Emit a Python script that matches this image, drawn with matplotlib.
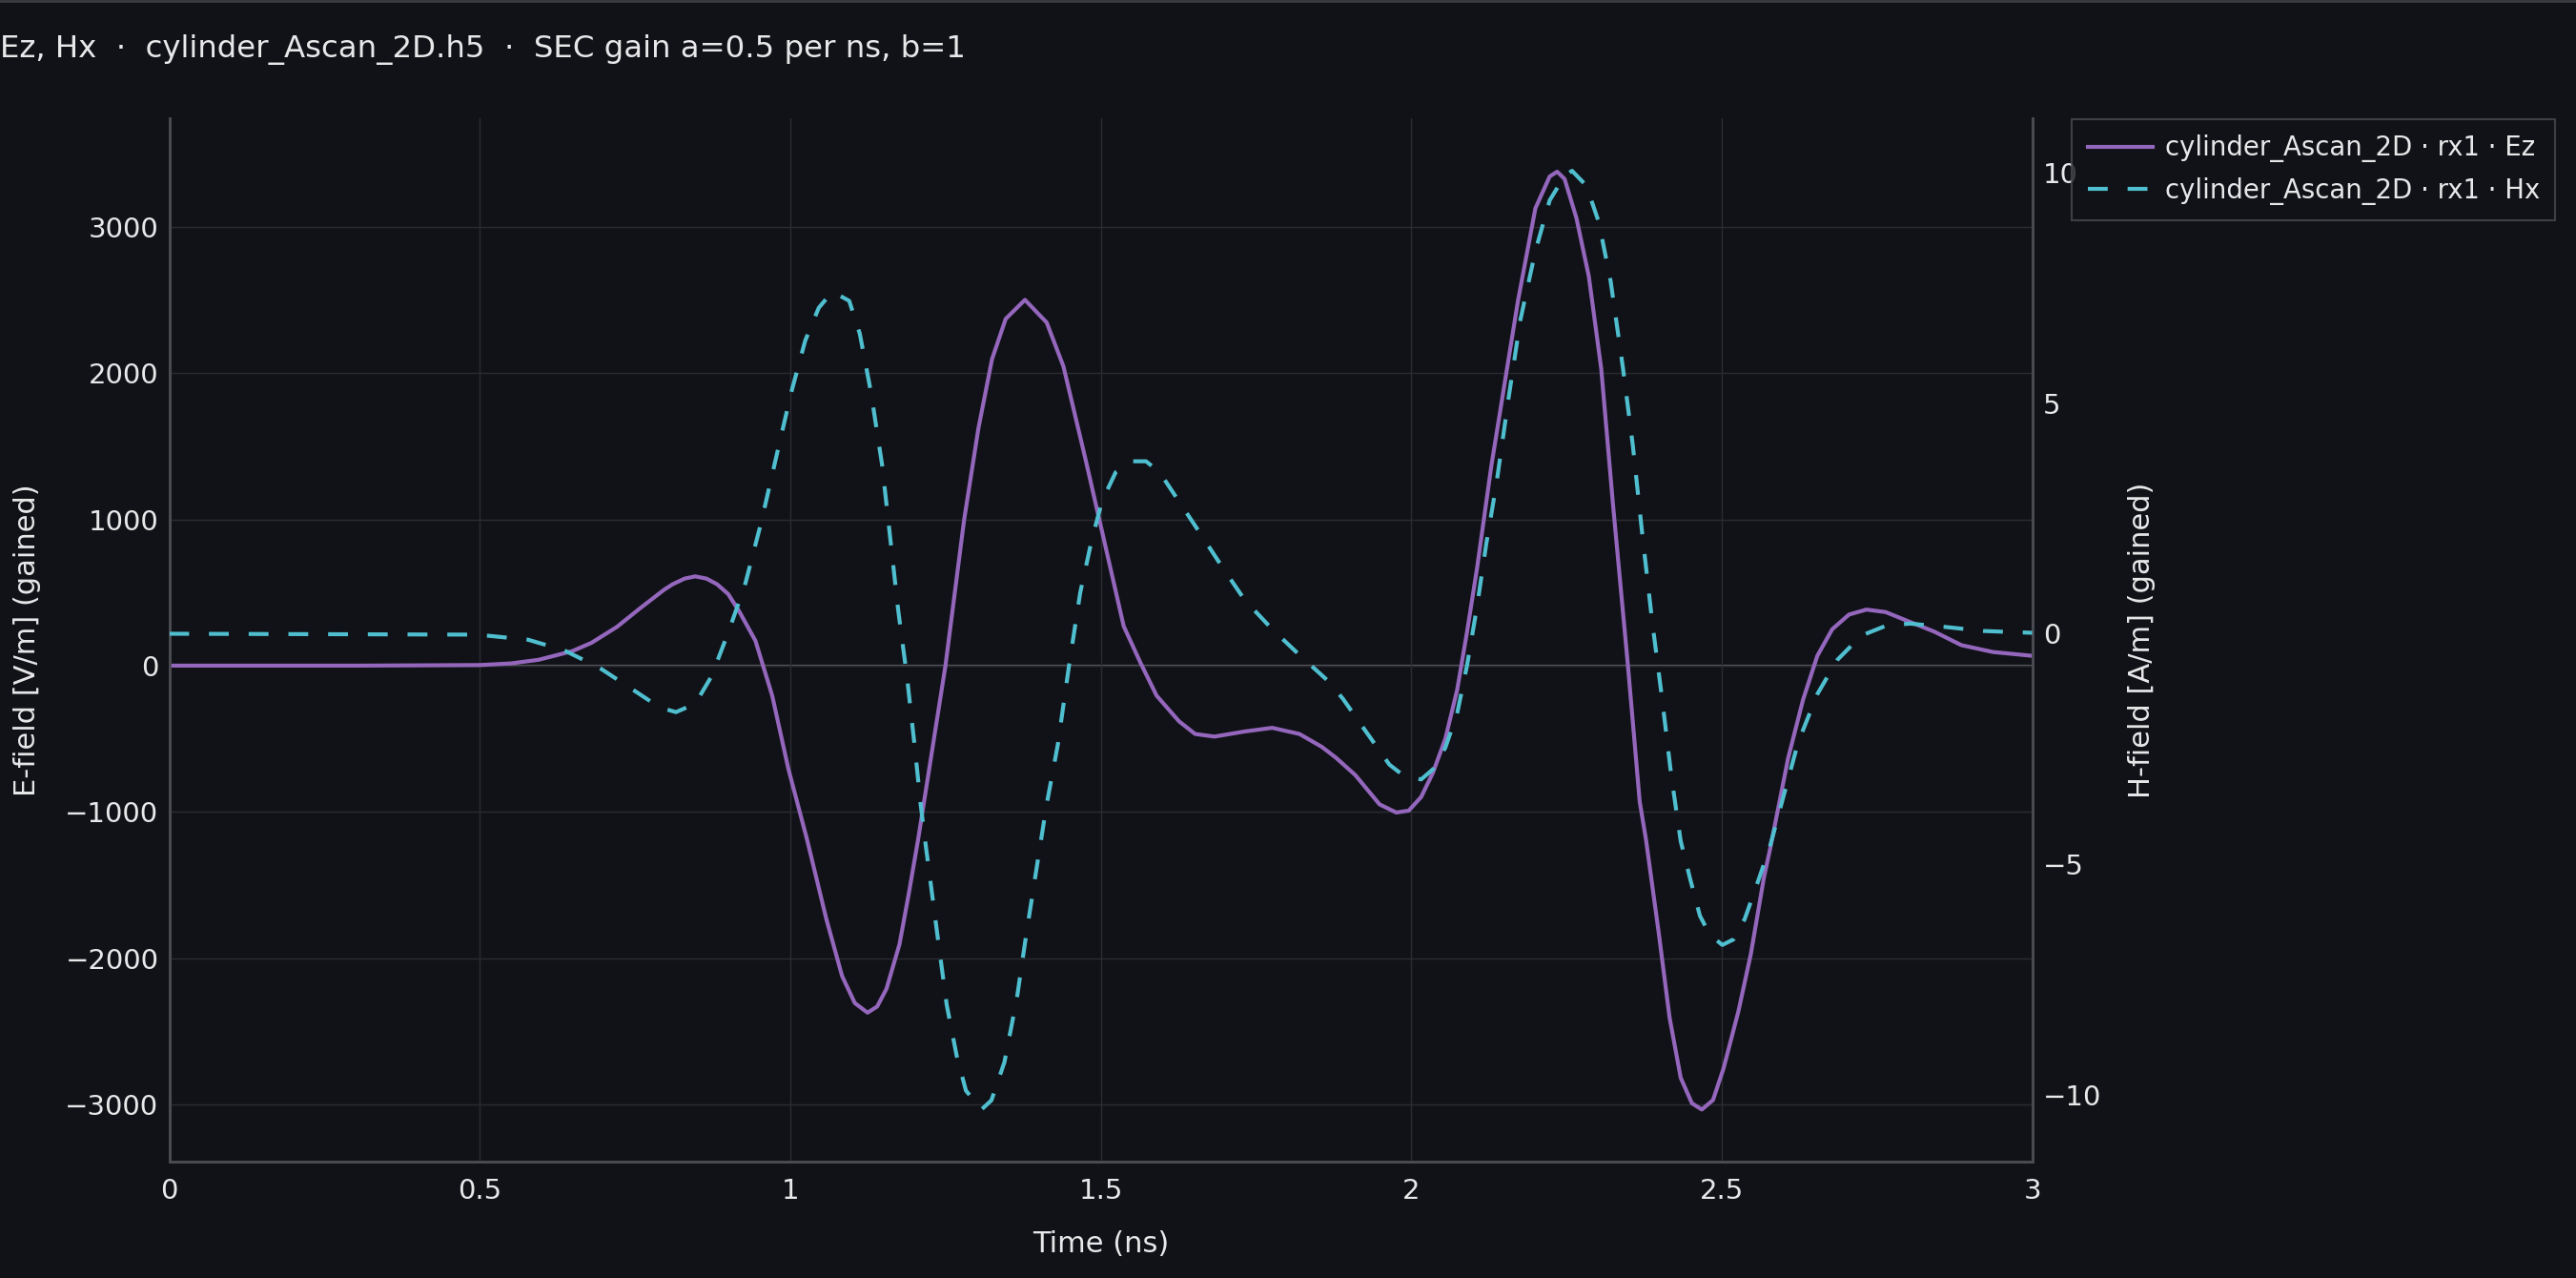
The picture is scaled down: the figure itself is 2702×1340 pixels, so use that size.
import numpy as np
import matplotlib.pyplot as plt

# Ez trace (time in ns, gained E-field in V/m)
ez_time = [0.0, 0.3, 0.5, 0.55, 0.595, 0.649, 0.68, 0.721, 0.757, 0.797, 0.811, 0.83,
           0.847, 0.865, 0.882, 0.9, 0.918, 0.944, 0.971, 0.997, 1.027, 1.058, 1.0835,
           1.104, 1.1245, 1.14, 1.155, 1.176, 1.191, 1.206, 1.25, 1.28, 1.303, 1.325,
           1.347, 1.378, 1.413, 1.44, 1.475, 1.502, 1.537, 1.564, 1.59, 1.626, 1.652,
           1.683, 1.732, 1.776, 1.82, 1.856, 1.879, 1.91, 1.949, 1.976, 1.996, 2.016,
           2.035, 2.055, 2.074, 2.09, 2.106, 2.129, 2.153, 2.172, 2.2, 2.223, 2.235,
           2.247, 2.266, 2.286, 2.306, 2.325, 2.349, 2.368, 2.378, 2.399, 2.416, 2.434,
           2.452, 2.468, 2.486, 2.503, 2.527, 2.547, 2.568, 2.578, 2.607, 2.631, 2.654,
           2.678, 2.705, 2.733, 2.764, 2.803, 2.842, 2.886, 2.937, 3.0]
ez_vals = [0, 0, 4, 15, 40, 99, 156, 265, 388, 519, 557, 595,
           610, 595, 557, 490, 370, 170, -205, -705, -1187, -1729, -2121,
           -2306, -2372, -2330, -2209, -1904, -1557, -1187, 0, 995, 1620, 2095,
           2370, 2500, 2345, 2045, 1420, 920, 270, 20, -205, -380, -467,
           -485, -450, -425, -467, -555, -630, -748, -948, -1004, -991, -898,
           -732, -499, -166, 233, 665, 1364, 1996, 2495, 3126, 3343, 3376,
           3326, 3060, 2661, 2029, 1098, 0, -931, -1187, -1839, -2404, -2817,
           -2991, -3034, -2969, -2752, -2361, -1969, -1448, -1252, -632, -233, 67,
           249, 349, 383, 366, 299, 233, 140, 93, 67]

# Hx trace (time in ns, gained H-field in A/m)
hx_time = [0.0, 0.5, 0.511, 0.578, 0.636, 0.693, 0.744, 0.79, 0.816, 0.847, 0.873, 0.9,
           0.927, 0.953, 0.98, 1.002, 1.024, 1.046, 1.068, 1.095, 1.112, 1.13, 1.148,
           1.161, 1.174, 1.188, 1.201, 1.21, 1.219, 1.237, 1.252, 1.268, 1.283, 1.308,
           1.324, 1.345, 1.365, 1.38, 1.396, 1.413, 1.431, 1.449, 1.467, 1.485, 1.502,
           1.524, 1.55, 1.573, 1.595, 1.626, 1.661, 1.696, 1.732, 1.776, 1.82, 1.865,
           1.89, 1.926, 1.965, 1.988, 2.016, 2.035, 2.055, 2.074, 2.09, 2.106, 2.121,
           2.137, 2.157, 2.176, 2.2, 2.223, 2.247, 2.259, 2.282, 2.302, 2.321, 2.341,
           2.357, 2.372, 2.388, 2.404, 2.419, 2.434, 2.45, 2.465, 2.481, 2.501, 2.519,
           2.537, 2.557, 2.578, 2.6, 2.623, 2.654, 2.686, 2.725, 2.764, 2.803, 2.858,
           2.921, 3.0]
hx_vals = [0.0, -0.02, -0.04, -0.13, -0.36, -0.74, -1.19, -1.6, -1.7, -1.52, -0.93, 0.02,
           1.05, 2.4, 3.98, 5.25, 6.35, 7.07, 7.42, 7.22, 6.51, 5.24, 3.66,
           2.08, 0.5, -0.93, -2.51, -3.7, -4.67, -6.53, -8.05, -9.15, -9.91, -10.32,
           -10.12, -9.29, -7.91, -6.53, -5.15, -3.7, -2.4, -0.69, 0.89, 2.0, 2.87,
           3.5, 3.74, 3.74, 3.5, 2.87, 2.16, 1.44, 0.73, 0.1, -0.46, -1.01,
           -1.41, -2.1, -2.84, -3.08, -3.16, -2.94, -2.47, -1.73, -0.68, 0.59, 1.96,
           3.23, 5.13, 6.82, 8.3, 9.4, 9.93, 10.04, 9.72, 8.93, 7.66, 5.76,
           4.07, 2.17, 0.27, -1.41, -3.1, -4.5, -5.36, -6.12, -6.53, -6.75, -6.63,
           -6.19, -5.43, -4.6, -3.5, -2.36, -1.31, -0.57, -0.04, 0.17, 0.22, 0.15,
           0.06, 0.02]

x_ticks = [0, 0.5, 1, 1.5, 2, 2.5, 3]
x_ticklabels = ['0', '0.5', '1', '1.5', '2', '2.5', '3']
e_ticks = [-3000, -2000, -1000, 0, 1000, 2000, 3000]
h_ticks = [-10, -5, 0, 5, 10]

title = 'Ez, Hx  \u00b7  cylinder_Ascan_2D.h5  \u00b7  SEC gain a=0.5 per ns, b=1'
ez_label = 'cylinder_Ascan_2D \u00b7 rx1 \u00b7 Ez'
hx_label = 'cylinder_Ascan_2D \u00b7 rx1 \u00b7 Hx'

BG = '#111217'
FG = '#e8e8ea'
GRID = '#2a2c32'
SPINE = '#4a4b51'
PURPLE = '#9467bd'
CYAN = '#4fbfd0'

plt.rcParams['font.family'] = ['DejaVu Sans']

W, H = 2702, 1340
fig = plt.figure(figsize=(W / 100, H / 100), dpi=100, facecolor=BG)

left, right, top, bottom = 177.5, 2131.6, 124, 1218
ax = fig.add_axes([left / W, 1 - bottom / H, (right - left) / W, (bottom - top) / H])
ax.set_facecolor(BG)
ax2 = ax.twinx()

lw = 3.0
l1, = ax.plot(ez_time, ez_vals, color=PURPLE, lw=lw, label=ez_label, zorder=3)
l2, = ax2.plot(hx_time, hx_vals, color=CYAN, lw=lw, ls=(0, (5, 5)), label=hx_label, zorder=3)

ax.set_xlim(0, 3)
ax.set_ylim(-3390, 3741)
ax2.set_ylim(-11.45, 11.18)

ax.set_xticks(x_ticks)
ax.set_xticklabels(x_ticklabels)
ax.set_yticks(e_ticks)
ax.set_yticklabels(['\u22123000', '\u22122000', '\u22121000', '0', '1000', '2000', '3000'])
ax2.set_yticks(h_ticks)
ax2.set_yticklabels(['\u221210', '\u22125', '0', '5', '10'])

ax.grid(True, color=GRID, lw=1.0, zorder=0)
ax.axhline(0, color='#5c5d62', lw=1.6, zorder=1)

for a in (ax, ax2):
    a.tick_params(axis='both', length=0, labelsize=21, labelcolor=FG)
    for s in a.spines.values():
        s.set_color(SPINE)
        s.set_linewidth(2.0)
    a.spines['top'].set_visible(False)
ax.tick_params(axis='x', pad=12)
ax.tick_params(axis='y', pad=8)
ax2.tick_params(axis='y', pad=8)

ax.set_xlabel('Time (ns)', fontsize=22, color=FG, labelpad=20)
ax.set_ylabel('E-field [V/m] (gained)', fontsize=22, color=FG, labelpad=18)
ax2.set_ylabel('H-field [A/m] (gained)', fontsize=22, color=FG, labelpad=20)

fig.text(0, 1 - 52 / H, title, fontsize=23.3, color=FG, ha='left', va='center')

leg = fig.legend(handles=[l1, l2], loc='upper left', bbox_to_anchor=(2173 / W, 1 - 125 / H),
                 borderaxespad=0, fontsize=19.8, frameon=True, fancybox=False,
                 handlelength=2.5, handletextpad=0.45, borderpad=0.6, labelspacing=0.55)
leg.get_frame().set_facecolor(BG)
leg.get_frame().set_edgecolor(SPINE)
leg.get_frame().set_linewidth(1.5)
for t in leg.get_texts():
    t.set_color(FG)

fig.add_artist(plt.Line2D([0, 1], [1 - 1 / H, 1 - 1 / H], color='#3a3b40', lw=2, transform=fig.transFigure))

fig.savefig('out.png', dpi=100, facecolor=BG)
